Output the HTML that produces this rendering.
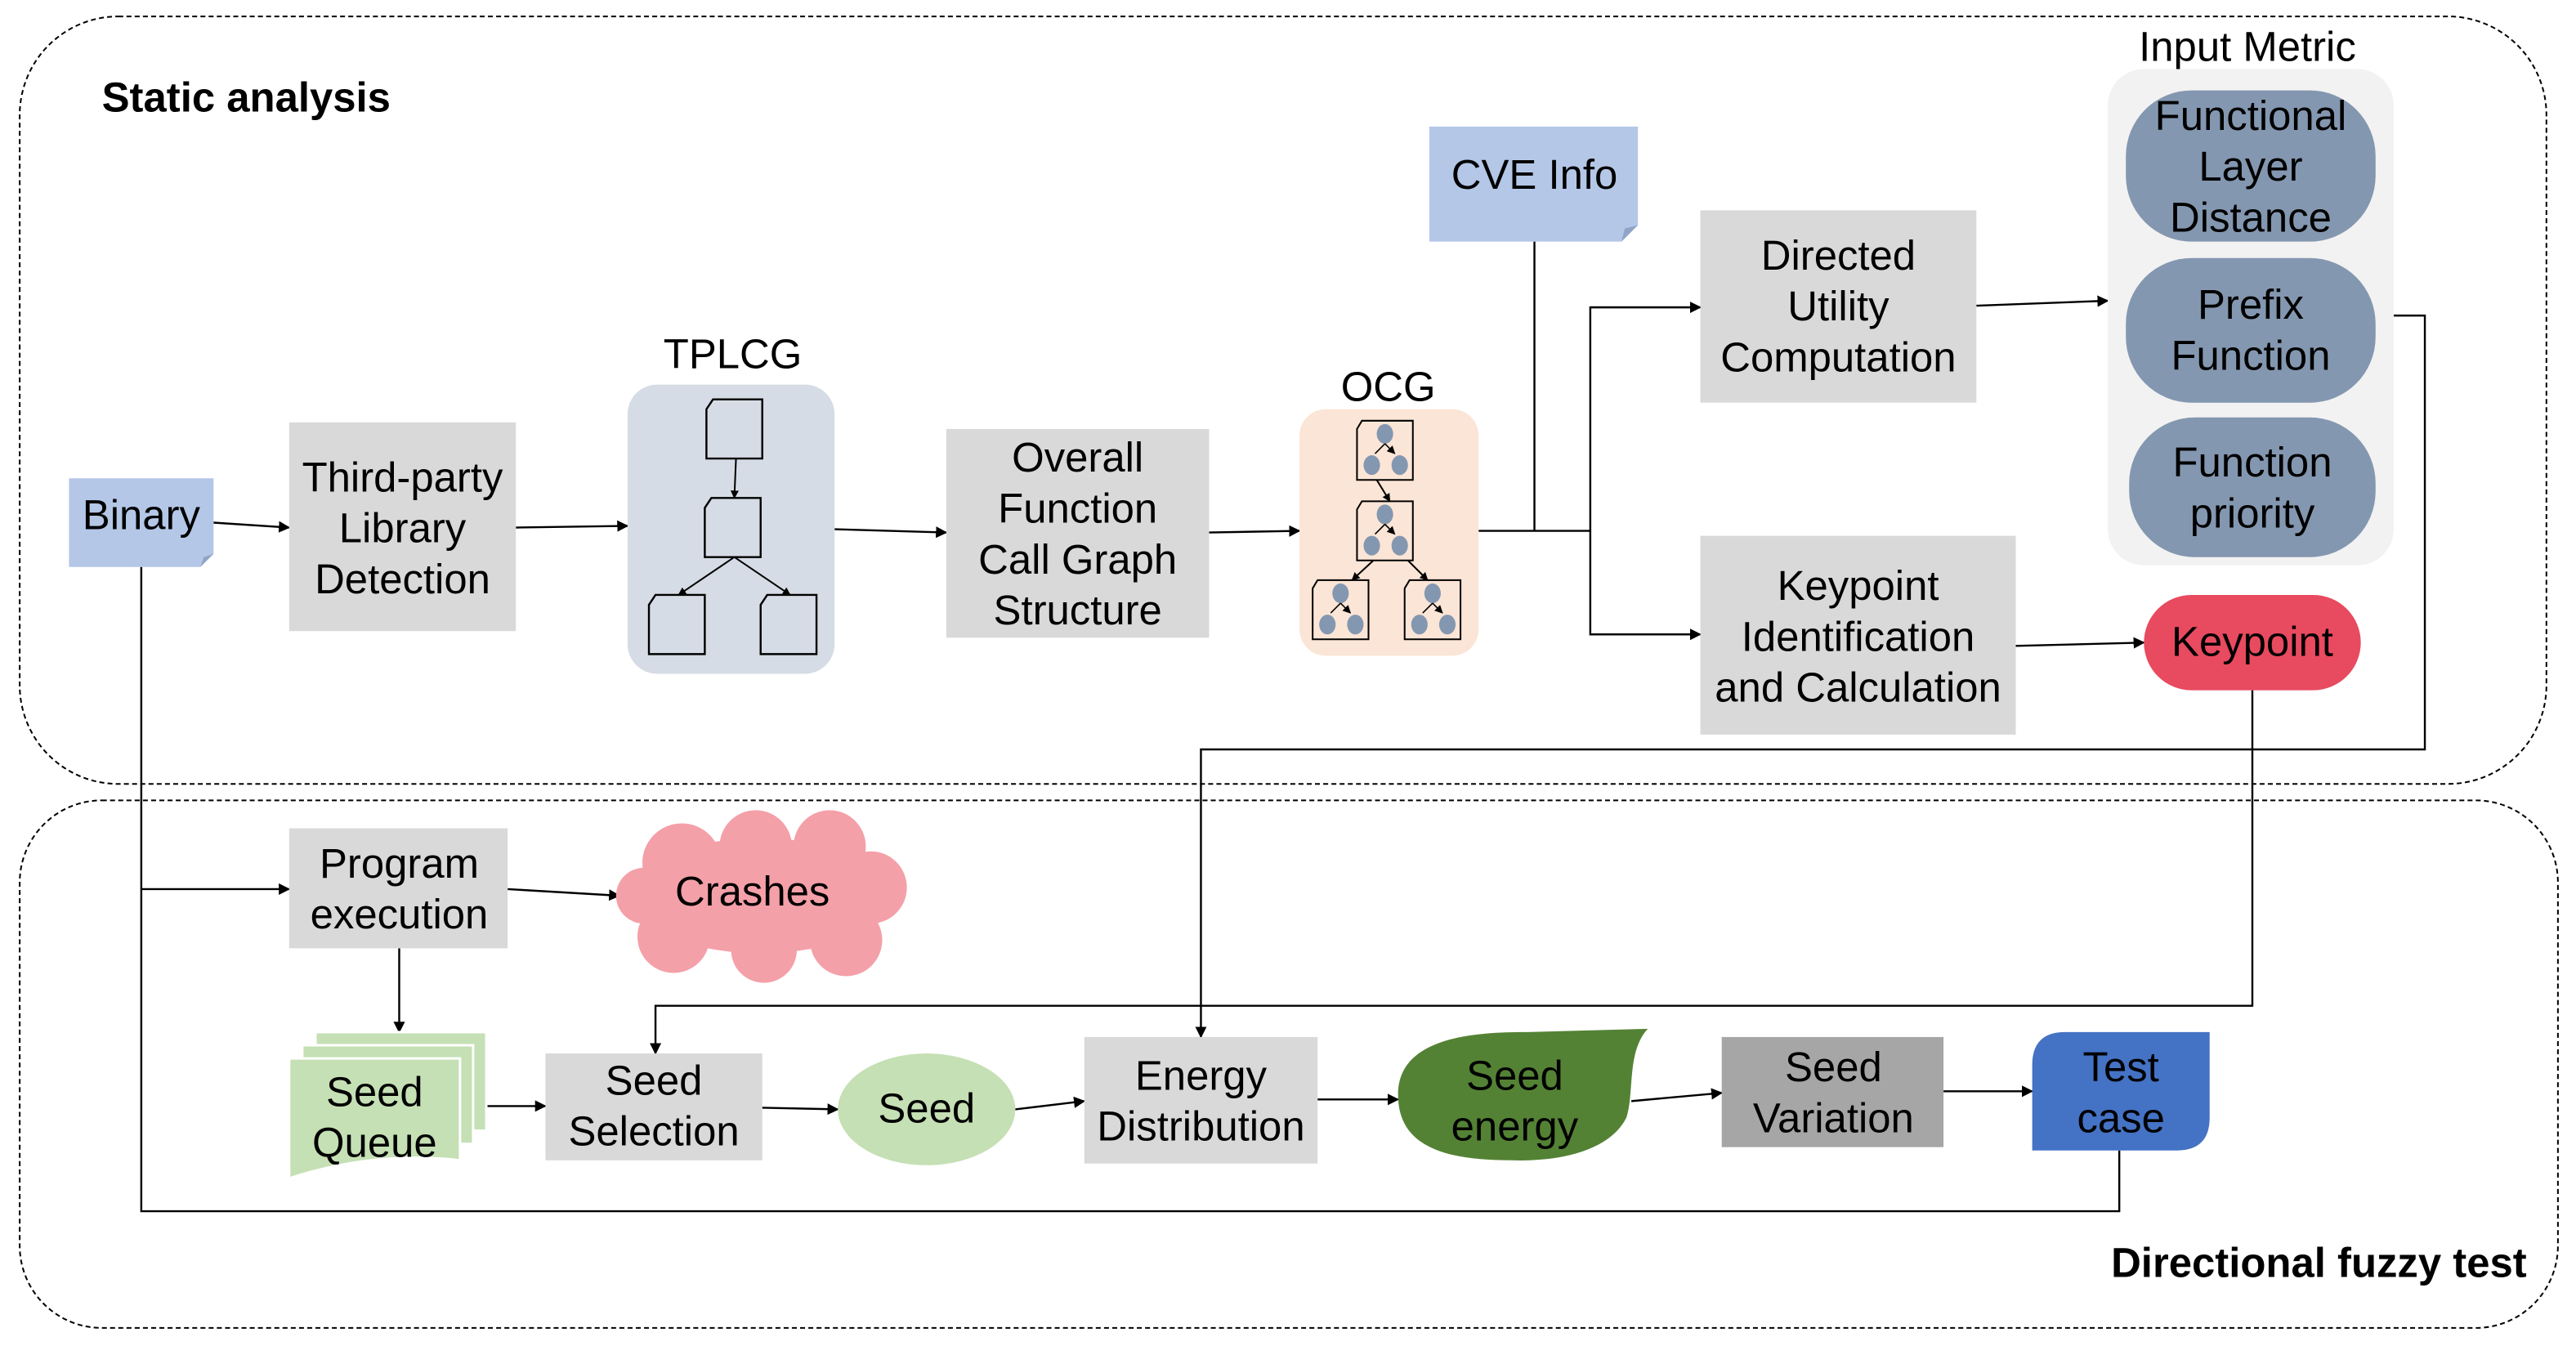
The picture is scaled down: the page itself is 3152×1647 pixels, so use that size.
<!DOCTYPE html>
<html><head><meta charset="utf-8"><style>
html,body{margin:0;padding:0;background:#fff;}
svg{display:block;}
text{font-family:"Liberation Sans",Arial,sans-serif;font-size:25.3px;fill:#000;text-anchor:middle;}
</style></head><body>
<svg width="3152" height="1647" viewBox="0 0 1568 819" preserveAspectRatio="none" xmlns="http://www.w3.org/2000/svg">
<defs>
<marker id="a" viewBox="0 0 10 10" refX="9" refY="5" markerWidth="7" markerHeight="7" orient="auto" markerUnits="userSpaceOnUse"><path d="M0,0L10,5L0,10z" fill="#000"/></marker>
<marker id="s" viewBox="0 0 10 10" refX="9" refY="5" markerWidth="5" markerHeight="5" orient="auto" markerUnits="userSpaceOnUse"><path d="M0,0L10,5L0,10z" fill="#000"/></marker>
<g id="doc"><path d="M4,0H34V36H0V6Z" fill="none" stroke="#000" stroke-width="1.2"/></g>
<g id="tree"><path d="M3,0H34V36H0V5Z" fill="none" stroke="#000" stroke-width="1"/>
<ellipse cx="17" cy="8" rx="5" ry="6" fill="#8497b0"/><ellipse cx="9" cy="27" rx="5" ry="6" fill="#8497b0"/><ellipse cx="26" cy="27" rx="5" ry="6" fill="#8497b0"/>
<path d="M17,14L11,20M17,14L23,20" stroke="#000" stroke-width="0.8" marker-end="url(#s)"/></g>
</defs>
<rect x="12" y="10" width="1538" height="467" rx="60" fill="none" stroke="#000" stroke-width="1" stroke-dasharray="3,2"/>
<rect x="12" y="487" width="1545" height="321" rx="50" fill="none" stroke="#000" stroke-width="1" stroke-dasharray="3,2"/>
<text x="62" y="68" style="font-weight:bold;text-anchor:start">Static analysis</text>
<text x="1538" y="777" style="font-weight:bold;text-anchor:end">Directional fuzzy test</text>

<g stroke="#000" stroke-width="1.2" fill="none">
<line x1="130" y1="318" x2="176" y2="321" marker-end="url(#a)"/>
<line x1="314" y1="321" x2="382" y2="320" marker-end="url(#a)"/>
<line x1="508" y1="322" x2="576" y2="324" marker-end="url(#a)"/>
<line x1="736" y1="324" x2="791" y2="323" marker-end="url(#a)"/>
<polyline points="900,323 968,323"/>
<line x1="934" y1="147" x2="934" y2="323"/>
<polyline points="1035,187 968,187 968,386 1035,386" marker-end="url(#a)"/>
<line x1="968" y1="187" x2="1035" y2="187" marker-end="url(#a)"/>
<line x1="1203" y1="186" x2="1283" y2="183" marker-end="url(#a)"/>
<line x1="1227" y1="393" x2="1305" y2="391" marker-end="url(#a)"/>
<polyline points="1457,192 1476,192 1476,456 731,456 731,631" marker-end="url(#a)"/>
<polyline points="1371,420 1371,612 399,612 399,641" marker-end="url(#a)"/>
<polyline points="86,345 86,737 1290,737 1290,700"/>
<line x1="86" y1="541" x2="176" y2="541" marker-end="url(#a)"/>
<line x1="309" y1="541" x2="377" y2="545" marker-end="url(#a)"/>
<line x1="243" y1="577" x2="243" y2="628" marker-end="url(#a)"/>
<line x1="296" y1="673" x2="332" y2="673" marker-end="url(#a)"/>
<line x1="464" y1="674" x2="510" y2="675" marker-end="url(#a)"/>
<line x1="618" y1="675" x2="660" y2="670" marker-end="url(#a)"/>
<line x1="802" y1="669" x2="851" y2="669" marker-end="url(#a)"/>
<line x1="993" y1="670" x2="1048" y2="665" marker-end="url(#a)"/>
<line x1="1183" y1="664" x2="1237" y2="664" marker-end="url(#a)"/>
</g>

<path d="M42,291H130V337L122,345H42Z" fill="#b4c7e7"/><path d="M122,345L124,339L130,337Z" fill="#8fa5c8"/>
<text x="86" y="322">Binary</text>
<rect x="176" y="257" width="138" height="127" fill="#d9d9d9"/>
<text x="245" y="299">Third-party</text><text x="245" y="330">Library</text><text x="245" y="361">Detection</text>
<text x="446" y="224">TPLCG</text>
<rect x="382" y="234" width="126" height="176" rx="18" fill="#d6dce5"/>
<use href="#doc" transform="translate(430,243)"/>
<use href="#doc" transform="translate(429,303)"/>
<use href="#doc" transform="translate(395,362)"/>
<use href="#doc" transform="translate(463,362)"/>
<g stroke="#000" stroke-width="1" fill="none">
<line x1="448" y1="279" x2="447" y2="303" marker-end="url(#s)"/>
<line x1="447" y1="339" x2="413" y2="362" marker-end="url(#s)"/>
<line x1="447" y1="339" x2="481" y2="362" marker-end="url(#s)"/>
</g>
<rect x="576" y="261" width="160" height="127" fill="#d9d9d9"/>
<text x="656" y="287">Overall</text><text x="656" y="318">Function</text><text x="656" y="349">Call Graph</text><text x="656" y="380">Structure</text>
<text x="845" y="244">OCG</text>
<rect x="791" y="249" width="109" height="150" rx="16" fill="#fbe5d6"/>
<use href="#tree" transform="translate(826,256)"/>
<use href="#tree" transform="translate(826,305)"/>
<use href="#tree" transform="translate(799,353)"/>
<use href="#tree" transform="translate(855,353)"/>
<g stroke="#000" stroke-width="1" fill="none">
<line x1="838" y1="292" x2="846" y2="305" marker-end="url(#s)"/>
<line x1="836" y1="341" x2="823" y2="353" marker-end="url(#s)"/>
<line x1="857" y1="341" x2="869" y2="353" marker-end="url(#s)"/>
</g>
<path d="M870,77H997V137L987,147H870Z" fill="#b4c7e7"/><path d="M987,147L989,139L997,137Z" fill="#8fa5c8"/>
<text x="934" y="115">CVE Info</text>
<rect x="1035" y="128" width="168" height="117" fill="#d9d9d9"/>
<text x="1119" y="164">Directed</text><text x="1119" y="195">Utility</text><text x="1119" y="226">Computation</text>
<rect x="1035" y="326" width="192" height="121" fill="#d9d9d9"/>
<text x="1131" y="365">Keypoint</text><text x="1131" y="396">Identification</text><text x="1131" y="427">and Calculation</text>
<text x="1368" y="37">Input Metric</text>
<rect x="1283" y="42" width="174" height="302" rx="22" fill="#f2f2f2"/>
<rect x="1294" y="55" width="152" height="92" rx="40" fill="#8497b0"/>
<text x="1370" y="79">Functional</text><text x="1370" y="110">Layer</text><text x="1370" y="141">Distance</text>
<rect x="1294" y="157" width="152" height="88" rx="40" fill="#8497b0"/>
<text x="1370" y="194">Prefix</text><text x="1370" y="225">Function</text>
<rect x="1296" y="254" width="150" height="85" rx="40" fill="#8497b0"/>
<text x="1371" y="290">Function</text><text x="1371" y="321">priority</text>
<rect x="1305" y="362" width="132" height="58" rx="29" fill="#e84a5f"/>
<text x="1371" y="399">Keypoint</text>
<rect x="176" y="504" width="133" height="73" fill="#d9d9d9"/>
<text x="243" y="534">Program</text><text x="243" y="565">execution</text>
<g fill="#f4a0a8">
<ellipse cx="463" cy="545" rx="80" ry="35"/>
<circle cx="415" cy="525" r="24"/><circle cx="460" cy="515" r="22"/><circle cx="505" cy="515" r="22"/>
<circle cx="530" cy="540" r="22"/><circle cx="515" cy="572" r="22"/><circle cx="465" cy="578" r="20"/>
<circle cx="410" cy="570" r="22"/><circle cx="392" cy="545" r="17"/>
</g>
<text x="458" y="551">Crashes</text>
<rect x="192" y="628" width="104" height="60" fill="#c5e0b4" stroke="#fff" stroke-width="1.5"/>
<rect x="184" y="636" width="104" height="60" fill="#c5e0b4" stroke="#fff" stroke-width="1.5"/>
<path d="M176,644H280V706Q228,700 176,717Z" fill="#c5e0b4" stroke="#fff" stroke-width="1.5"/>
<text x="228" y="673">Seed</text><text x="228" y="704">Queue</text>
<rect x="332" y="641" width="132" height="65" fill="#d9d9d9"/>
<text x="398" y="666">Seed</text><text x="398" y="697">Selection</text>
<ellipse cx="564" cy="675" rx="54" ry="34" fill="#c5e0b4"/>
<text x="564" y="683">Seed</text>
<rect x="660" y="631" width="142" height="77" fill="#d9d9d9"/>
<text x="731" y="663">Energy</text><text x="731" y="694">Distribution</text>
<path d="M851,666C851,630 900,628 930,628L1003,626C990,640 995,665 990,680C980,700 950,707 920,706C880,706 851,698 851,666Z" fill="#548235"/>
<text x="922" y="663">Seed</text><text x="922" y="694">energy</text>
<rect x="1048" y="631" width="135" height="67" fill="#a6a6a6"/>
<text x="1116" y="658">Seed</text><text x="1116" y="689">Variation</text>
<path d="M1257,628H1345V680Q1345,700 1325,700H1237V648Q1237,628 1257,628Z" fill="#4472c4"/>
<text x="1291" y="658">Test</text><text x="1291" y="689">case</text>
</svg>
</body></html>
